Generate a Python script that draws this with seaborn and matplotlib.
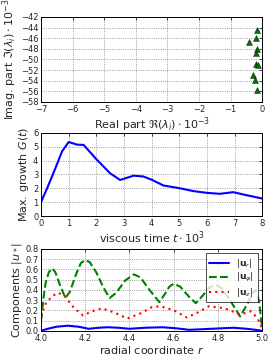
import numpy as np
import pandas as pd
import matplotlib
matplotlib.use("Agg")
import matplotlib.pyplot as plt
import seaborn as sns

# eigenvalues (real, imag) * 1e-3
eig_re = [-0.15, -0.20, -0.42, -0.17, -0.19, -0.21, -0.13, -0.28, -0.23, -0.15]
eig_im = [-44.4, -46.0, -46.8, -48.1, -48.8, -50.8, -51.0, -53.0, -53.9, -55.7]

# max growth G(t)
t_vals = [0.0, 0.22, 0.52, 0.76, 1.0, 1.3, 1.54, 2.0, 2.5, 2.86, 3.35, 3.7,
          4.0, 4.43, 5.03, 5.5, 6.0, 6.47, 6.95, 7.44, 8.0]
g_vals = [1.0, 2.0, 3.45, 4.66, 5.34, 5.15, 5.13, 4.1, 3.08, 2.6, 2.91, 2.85,
          2.62, 2.2, 2.0, 1.8, 1.67, 1.6, 1.72, 1.5, 1.26]

# velocity components
r_phi = [4.00, 4.01, 4.02, 4.035, 4.05, 4.065, 4.085, 4.11, 4.13, 4.16, 4.18,
         4.20, 4.22, 4.25, 4.28, 4.31, 4.34, 4.38, 4.42, 4.45, 4.49, 4.535,
         4.56, 4.58, 4.60, 4.63, 4.67, 4.70, 4.73, 4.76, 4.79, 4.82, 4.86,
         4.90, 4.93, 4.955, 4.97, 4.985, 5.00]
u_phi = [0.10, 0.30, 0.46, 0.57, 0.61, 0.57, 0.45, 0.32, 0.38, 0.56, 0.66,
         0.69, 0.67, 0.57, 0.43, 0.32, 0.37, 0.49, 0.55, 0.52, 0.40, 0.28,
         0.36, 0.43, 0.46, 0.43, 0.33, 0.27, 0.34, 0.42, 0.45, 0.41, 0.28,
         0.14, 0.25, 0.36, 0.40, 0.30, 0.03]
r_z = [4.00, 4.02, 4.05, 4.08, 4.11, 4.15, 4.19, 4.23, 4.275, 4.33, 4.39,
       4.45, 4.50, 4.54, 4.60, 4.66, 4.71, 4.76, 4.83, 4.90, 4.95, 4.98, 5.00]
u_z = [0.14, 0.26, 0.34, 0.37, 0.33, 0.22, 0.15, 0.19, 0.22, 0.18, 0.12,
       0.17, 0.23, 0.24, 0.20, 0.13, 0.18, 0.24, 0.22, 0.16, 0.19, 0.12, 0.02]
r_r = [4.00, 4.03, 4.07, 4.12, 4.17, 4.215, 4.26, 4.30, 4.35, 4.40, 4.47,
       4.55, 4.61, 4.67, 4.72, 4.77, 4.82, 4.87, 4.93, 4.97, 5.00]
u_r = [0.00, 0.02, 0.04, 0.05, 0.04, 0.02, 0.03, 0.035, 0.03, 0.02, 0.03,
       0.035, 0.025, 0.01, 0.015, 0.02, 0.025, 0.03, 0.02, 0.01, 0.00]

sns.set_style("whitegrid", {"grid.linestyle": ":", "grid.color": "#808080",
                            "axes.edgecolor": "black", "xtick.direction": "in",
                            "ytick.direction": "in"})
plt.rcParams['font.family'] = ['DejaVu Sans']
plt.rcParams['mathtext.fontset'] = 'dejavusans'

fig = plt.figure(figsize=(2.7, 3.6), dpi=100)
ax1 = fig.add_axes([0.152, 0.717, 0.819, 0.236])
ax2 = fig.add_axes([0.152, 0.400, 0.819, 0.231])
ax3 = fig.add_axes([0.152, 0.081, 0.819, 0.228])

tick_fs = 6
lab_fs = 8

sns.scatterplot(x=eig_re, y=eig_im, ax=ax1, marker='^', color='#007000',
                edgecolor='black', linewidth=0.3, s=18, zorder=3)
ax1.set_xlim(-7, 0)
ax1.set_ylim(-58, -42)
ax1.set_xticks(range(-7, 1))
ax1.set_yticks(range(-58, -41, 2))
ax1.set_xlabel(r'Real part $\Re(\lambda_i)\cdot 10^{-3}$', fontsize=lab_fs, labelpad=1)
ax1.set_ylabel(r'Imag. part $\Im(\lambda_i)\cdot 10^{-3}$', fontsize=lab_fs, labelpad=1)

df_g = pd.DataFrame({'t': t_vals, 'G': g_vals})
sns.lineplot(data=df_g, x='t', y='G', ax=ax2, color='blue', linewidth=1.5,
             estimator=None, sort=False)
ax2.set_xlim(0, 8)
ax2.set_ylim(0, 6)
ax2.set_yticks(range(0, 7))
ax2.set_xlabel(r'viscous time $t\cdot 10^3$', fontsize=lab_fs, labelpad=1)
ax2.set_ylabel(r'Max. growth $G(t)$', fontsize=lab_fs, labelpad=1)

sns.lineplot(x=r_r, y=u_r, ax=ax3, color='blue', linewidth=1.5,
             estimator=None, sort=False, label=r'$|\mathbf{u}_r|$')
sns.lineplot(x=r_phi, y=u_phi, ax=ax3, color='green', linewidth=1.5,
             linestyle='--', estimator=None, sort=False, label=r'$|\mathbf{u}_\varphi|$')
sns.lineplot(x=r_z, y=u_z, ax=ax3, color='red', linewidth=1.5,
             linestyle=(0, (1, 2)), estimator=None, sort=False, label=r'$|\mathbf{u}_z|$')
ax3.set_xlim(4.0, 5.0)
ax3.set_ylim(0, 0.8)
ax3.set_xticks([4.0, 4.2, 4.4, 4.6, 4.8, 5.0])
ax3.set_yticks(np.arange(0, 0.81, 0.1))
ax3.set_xlabel(r'radial coordinate $r$', fontsize=lab_fs, labelpad=1)
ax3.set_ylabel(r'Components $|u_*|$', fontsize=lab_fs, labelpad=1)
leg = ax3.legend(loc='upper right', fontsize=6.5, frameon=True, fancybox=False,
                 handlelength=2.2, borderpad=0.4, labelspacing=0.15)
leg.get_frame().set_edgecolor('black')
leg.get_frame().set_linewidth(0.6)

for ax in (ax1, ax2, ax3):
    ax.tick_params(labelsize=tick_fs, length=2.5, width=0.6, pad=2,
                   top=True, right=True)
    ax.grid(True, linewidth=0.6)
    for sp in ax.spines.values():
        sp.set_linewidth(0.7)
ax3.yaxis.set_major_formatter(matplotlib.ticker.FormatStrFormatter('%.1f'))
ax3.xaxis.set_major_formatter(matplotlib.ticker.FormatStrFormatter('%.1f'))

fig.savefig('out.png', dpi=100)
